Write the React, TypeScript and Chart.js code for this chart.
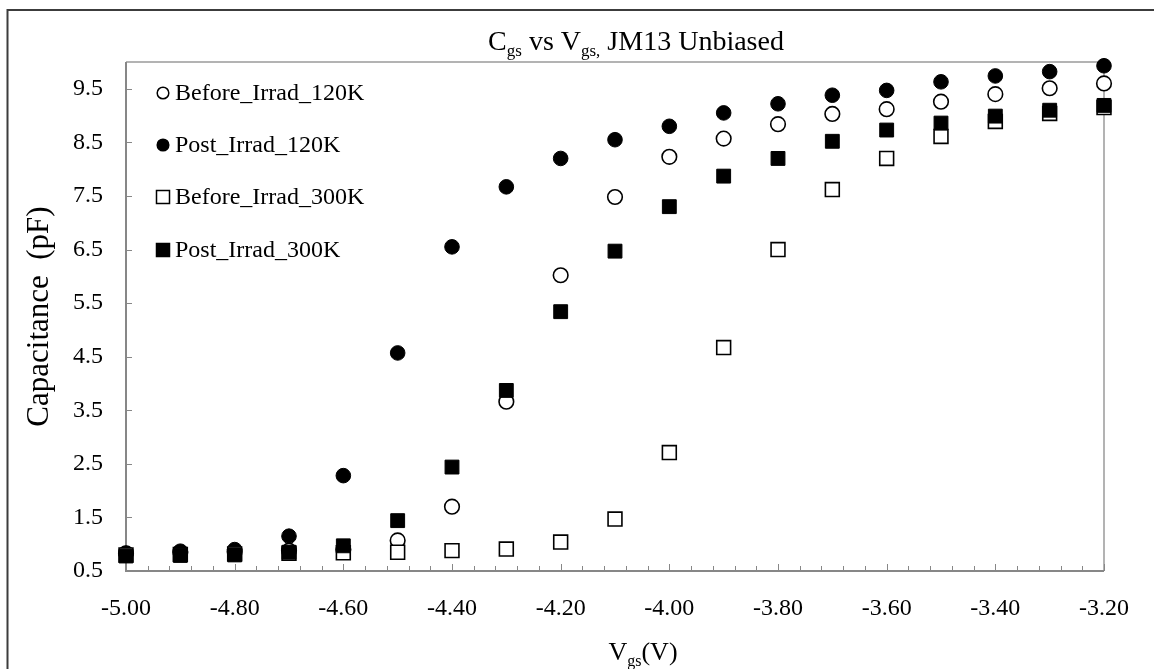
import React, { useEffect, useRef } from 'react';
import { Chart, registerables } from 'chart.js';

Chart.register(...registerables);

const vgs = [-5.0, -4.9, -4.8, -4.7, -4.6, -4.5, -4.4, -4.3, -4.2, -4.1, -4.0, -3.9, -3.8, -3.7, -3.6, -3.5, -3.4, -3.3, -3.2];
const beforeIrrad120K = [0.83, 0.85, 0.86, 0.88, 0.9, 1.07, 1.7, 3.66, 6.02, 7.48, 8.23, 8.57, 8.84, 9.03, 9.12, 9.26, 9.4, 9.51, 9.6];
const postIrrad120K = [0.83, 0.87, 0.9, 1.15, 2.28, 4.57, 6.55, 7.67, 8.2, 8.55, 8.8, 9.05, 9.22, 9.38, 9.47, 9.63, 9.74, 9.82, 9.93];
const beforeIrrad300K = [0.8, 0.81, 0.82, 0.83, 0.84, 0.85, 0.88, 0.91, 1.04, 1.47, 2.71, 4.67, 6.5, 7.62, 8.2, 8.61, 8.89, 9.04, 9.15];
const postIrrad300K = [0.78, 0.79, 0.8, 0.85, 0.97, 1.44, 2.44, 3.87, 5.34, 6.47, 7.3, 7.87, 8.2, 8.52, 8.73, 8.86, 8.99, 9.1, 9.19];

const seriesNames = ['Before_Irrad_120K', 'Post_Irrad_120K', 'Before_Irrad_300K', 'Post_Irrad_300K'];
const xTickValues = [-5.0, -4.8, -4.6, -4.4, -4.2, -4.0, -3.8, -3.6, -3.4, -3.2];
const yTickValues = [0.5, 1.5, 2.5, 3.5, 4.5, 5.5, 6.5, 7.5, 8.5, 9.5];
const xMin = -5.0;
const xMax = -3.2;
const yMin = 0.5;
const yMax = 10.0;
const xMinorStep = 0.04;

const FONT = "'Liberation Serif', 'Times New Roman', serif";

type Run = { t: string; sub?: boolean };

function drawRuns(ctx: CanvasRenderingContext2D, runs: Run[], cx: number, baseline: number, size: number, subSize: number, subDrop: number) {
  ctx.save();
  ctx.textBaseline = 'alphabetic';
  ctx.textAlign = 'left';
  ctx.fillStyle = '#000';
  let total = 0;
  const widths = runs.map((r) => {
    ctx.font = `${r.sub ? subSize : size}px ${FONT}`;
    const w = ctx.measureText(r.t).width;
    total += w;
    return w;
  });
  let x = cx - total / 2;
  runs.forEach((r, i) => {
    ctx.font = `${r.sub ? subSize : size}px ${FONT}`;
    ctx.fillText(r.t, x, baseline + (r.sub ? subDrop : 0));
    x += widths[i];
  });
  ctx.restore();
}

const markerStyles = [
  { shape: 'circle', fill: '#ffffff' },
  { shape: 'circle', fill: '#000000' },
  { shape: 'rect', fill: '#ffffff' },
  { shape: 'rect', fill: '#000000' },
];

const framePlugin = {
  id: 'frame',
  beforeDatasetsDraw(chart: any) {
    const { ctx, chartArea: a, scales } = chart;
    const x = scales.x;
    const y = scales.y;
    ctx.save();
    ctx.strokeStyle = '#3c3c3c';
    ctx.lineWidth = 2;
    ctx.beginPath();
    ctx.moveTo(7.5, 669);
    ctx.lineTo(7.5, 10);
    ctx.lineTo(1154, 10);
    ctx.stroke();
    ctx.strokeStyle = '#9a9a9a';
    ctx.lineWidth = 1.5;
    ctx.beginPath();
    ctx.moveTo(a.left, a.top);
    ctx.lineTo(a.right, a.top);
    ctx.lineTo(a.right, a.bottom);
    ctx.stroke();
    ctx.strokeStyle = '#878787';
    ctx.lineWidth = 2;
    ctx.beginPath();
    ctx.moveTo(a.left, a.top);
    ctx.lineTo(a.left, a.bottom);
    ctx.lineTo(a.right, a.bottom);
    ctx.stroke();
    ctx.lineWidth = 1;
    ctx.beginPath();
    for (const v of yTickValues) {
      const py = Math.round(y.getPixelForValue(v)) + 0.5;
      ctx.moveTo(a.left, py);
      ctx.lineTo(a.left + 6, py);
    }
    const n = Math.round((xMax - xMin) / xMinorStep);
    for (let k = 0; k <= n; k++) {
      const v = xMin + k * xMinorStep;
      const px = Math.round(x.getPixelForValue(v)) + 0.5;
      const major = k % 5 === 0;
      ctx.moveTo(px, a.bottom);
      ctx.lineTo(px, a.bottom - (major ? 7 : 5));
    }
    ctx.stroke();
    ctx.restore();
  },
  afterDraw(chart: any) {
    const { ctx, chartArea: a } = chart;
    drawRuns(ctx, [{ t: 'C' }, { t: 'gs', sub: true }, { t: ' vs V' }, { t: 'gs,', sub: true }, { t: ' JM13 Unbiased' }], 636, 50, 28, 17, 6);
    drawRuns(ctx, [{ t: 'V' }, { t: 'gs', sub: true }, { t: '(V)' }], (a.left + a.right) / 2 + 28, 660, 26, 16, 6);
    ctx.save();
    const rows = [93, 145, 197, 250];
    seriesNames.forEach((name, i) => {
      const cy = rows[i];
      const cx = a.left + 37;
      const st = markerStyles[i];
      ctx.fillStyle = st.fill;
      ctx.strokeStyle = '#000';
      ctx.lineWidth = 1.5;
      ctx.beginPath();
      if (st.shape === 'circle') {
        ctx.arc(cx, cy, 5.8, 0, Math.PI * 2);
      } else {
        ctx.rect(cx - 6.5, cy - 6.5, 13, 13);
      }
      ctx.fill();
      ctx.stroke();
      ctx.fillStyle = '#000';
      ctx.font = `24px ${FONT}`;
      ctx.textBaseline = 'middle';
      ctx.textAlign = 'left';
      ctx.fillText(name, cx + 12, cy + 1);
    });
    ctx.restore();
  },
};

function makeData(values: number[]) {
  return vgs.map((v, i) => ({ x: v, y: values[i] }));
}

export default function App() {
  const canvasRef = useRef<HTMLCanvasElement | null>(null);

  useEffect(() => {
    const canvas = canvasRef.current;
    if (!canvas) return;
    const seriesValues = [beforeIrrad120K, postIrrad120K, beforeIrrad300K, postIrrad300K];
    const datasets = seriesValues.map((vals, i) => {
      const st = markerStyles[i];
      return {
        label: seriesNames[i],
        data: makeData(vals),
        pointStyle: st.shape,
        pointRadius: st.shape === 'circle' ? 7.3 : 9.8,
        pointBorderWidth: st.fill === '#ffffff' ? 1.6 : 1,
        pointBackgroundColor: st.fill,
        pointBorderColor: '#000000',
        backgroundColor: st.fill,
        borderColor: '#000000',
        showLine: false,
        clip: false,
        order: 4 - i,
      };
    });
    const chart = new Chart(canvas, {
      type: 'scatter',
      data: { datasets },
      options: {
        animation: false,
        responsive: false,
        devicePixelRatio: 1,
        layout: { padding: { left: 0, top: 62, right: 50, bottom: 0 }, autoPadding: false },
        plugins: {
          legend: { display: false },
          tooltip: { enabled: false },
          title: { display: false },
        },
        scales: {
          x: {
            type: 'linear',
            min: xMin,
            max: xMax,
            afterBuildTicks: (scale: any) => {
              scale.ticks = xTickValues.map((v) => ({ value: v }));
            },
            afterFit: (scale: any) => {
              scale.height = 98;
            },
            grid: { display: false, drawTicks: false },
            border: { display: false },
            ticks: {
              padding: 23,
              color: '#000',
              font: { family: FONT, size: 24 },
              maxRotation: 0,
              autoSkip: false,
              callback: (v: any) => Number(v).toFixed(2),
            },
          },
          y: {
            type: 'linear',
            min: yMin,
            max: yMax,
            afterBuildTicks: (scale: any) => {
              scale.ticks = yTickValues.map((v) => ({ value: v }));
            },
            afterFit: (scale: any) => {
              scale.width = 126;
            },
            grid: { display: false, drawTicks: false },
            border: { display: false },
            ticks: {
              padding: 23,
              color: '#000',
              font: { family: FONT, size: 24 },
              autoSkip: false,
              callback: (v: any) => Number(v).toFixed(1),
            },
            title: {
              display: true,
              text: 'Capacitance  (pF)',
              color: '#000',
              font: { family: FONT, size: 31 },
              padding: { top: 21, bottom: 0 },
            },
          },
        },
      },
      plugins: [framePlugin],
    });
    return () => chart.destroy();
  }, []);

  return (
    <div style={{ position: 'fixed', left: 0, top: 0, width: 1154, height: 669, background: '#ffffff' }}>
      <canvas ref={canvasRef} width={1154} height={669} style={{ display: 'block', width: 1154, height: 669 }} />
    </div>
  );
}
